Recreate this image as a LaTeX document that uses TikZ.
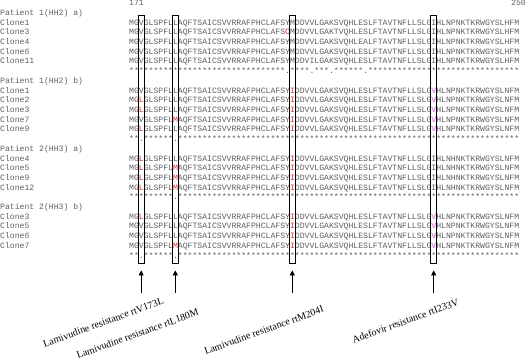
\documentclass[tikz,border=0pt]{standalone}
\usepackage{fontspec}
\setmainfont{Liberation Serif}
\setmonofont{Liberation Mono}
\usetikzlibrary{arrows.meta,positioning}
\definecolor{alngray}{RGB}{95,95,95}
\definecolor{alnred}{RGB}{225,45,45}
\definecolor{alnpink}{RGB}{215,95,215}
\newcommand{\rd}[1]{\textcolor{alnred}{#1}}
\newcommand{\pk}[1]{\textcolor{alnpink}{#1}}
\newcommand{\sten}{**********}

\begin{document}
\begin{tikzpicture}[x=1pt, y=-1pt,
  seqtext/.style={anchor=base west, inner sep=0pt, text=alngray,
                  font=\fontsize{8.125}{9.7}\selectfont\ttfamily},
  colbox/.style={draw, line width=0.8pt, minimum width=5.6pt,
                 minimum height=248pt, inner sep=0pt},
  uparr/.style={-{Triangle[width=5pt,length=5pt]}, line width=0.7pt},
  mutlabel/.style={rotate=20, anchor=north east, inner sep=0pt,
                   font=\fontsize{10}{11}\selectfont}]
  \useasboundingbox (0,0) rectangle (528,361);
  % Position numbers
  \node[seqtext] (pos171) at (129,5.8) {171};
  \node[seqtext] (pos250) at (511,5.8) {250};
  % Group headers
  \foreach \i/\hd in {0/{Patient 1(HH2) a)}, 7/{Patient 1(HH2) b)},
                      14/{Patient 2(HH3) a)}, 20/{Patient 2(HH3) b)}}
    \node[seqtext] (head\i) at (0,15.5+9.7*\i) {\hd};
  % Clone names and sequences
  \foreach \i/\nm/\sq in {
    1/Clone1/{MGVGLSPFLLAQFTSAICSVVRRAFPHCLAFSYMDDVVLGAKSVQHLESLFTAVTNFLLSLGIHLNPNKTKRWGYSLHFM},
    2/Clone3/{MGVGLSPFLLAQFTSAICSVVRRAFPHCLAFS\rd{C}MDDVVLGAKTVQHLESLFTAVTNFLLSLGIHLNPNKTKRWGYSLHFM},
    3/Clone4/{MGVGLSPFLLAQFTSAICSVVRRAFPHCLAFSYMDDVVLGAKSVQHLEALFTAVTNFLLSLGIHLNPNKTKRWGYSLHFM},
    4/Clone6/{MGVGLSPFLLAQFTSAICSVVRRAFPHCLAFSYMDDVVLGAKSVQHLESLFTAVTNFLLSLGIHLNPNKTKRWGYSLHFM},
    5/Clone11/{MGVGLSPFLLAQFTSAICSVVRRAFPHCLAFSYMDDVILGAKSVQHLESLFTAVTNFLLSLGIHLNPNKTKRWGYSLHFM},
    8/Clone1/{MGVGLSPFLLAQFTSAICSVVRRAFPHCLAFSY\rd{I}DDVVLGAKSVQHLESLFTAVTNFLLSLG\pk{V}HLNPNKTKRWGYSLNFM},
    9/Clone2/{MG\rd{L}GLSPFLLAQFTSAICSVVRRAFPHCLAFSY\rd{I}DDVVLGAKSVQHLESLFTAVTNFLLSLG\pk{V}HLNPNKTKRWGYSLNFM},
    10/Clone3/{MG\rd{L}GLSPFLLAQFTSAICSVVRRAFPHCLAFSY\rd{I}DDVVLGAKSVQHLESLFTAVTNFLLSLG\pk{V}HLNPNKTKRWGYSLNFM},
    11/Clone7/{MGVGLSPFL\rd{M}AQFTSAICSVVRRAFPHCLAFSY\rd{I}DDVVLGAKSVQHLESLFTAVTNFLLSLG\pk{V}HLNPNKTKRWGYSLNFM},
    12/Clone9/{MG\rd{L}GLSPFLLAQFTSAICSVVRRAFPHCLAFSY\rd{I}DDVVLGAKSVQHLESLFTAVTNFLLSLG\pk{V}HLNPNKTKRWGYSLNFM},
    15/Clone4/{MG\rd{L}GLSPFLLAQFTSAICSVVRRAFPHCLAFSY\rd{I}DDVVLGAKSVQHLESLFTAVTNFLLSLGIHLNHNKTKRWGYSLNFM},
    16/Clone5/{MG\rd{L}GLSPFL\rd{M}AQFTSAICSVVRRAFPHCLAFSY\rd{I}DDVVLGAKSVQHLESLFTAVTNFLLSLGIHLNHNKTKRWGYSLNFM},
    17/Clone9/{MG\rd{L}GLSPFL\rd{M}AQFTSAICSVVRRAFPHCLAFSY\rd{I}DDVVLGAKSVQHLESLFTAVTNFLLSLGIHLNHNKTKRWGYSLNFM},
    18/Clone12/{MG\rd{L}GLSPFL\rd{M}AQFTSAICSVVRRAFPHCLAFSY\rd{I}DDVVLGAKSVQHLESLFTAVTNFLLSLGIHLNHNKTKRWGYSLNFM},
    21/Clone3/{MG\rd{L}GLSPFLLAQFTSAICSVVRRAFPHCLAFSY\rd{I}DDVVLGAKSVQHLESLFTAVTNFLLSLG\pk{V}HLNPNKTKRWGYSLNFM},
    22/Clone5/{MGVGLSPFLLAQFTSAICSVVRRAFPHCLAFSY\rd{I}DDVVLGAKSVQHLESLFTAVTNFLLSLG\pk{V}HLNPNKTKRWGYSLNFM},
    23/Clone6/{MGVGLSPFLLAQFTSAICSVVRRAFPHCLAFSY\rd{I}DDVVLGAKSVQHLESLFTAVTNFLLSLG\pk{V}HLNPNKTKRWGYSLNFM},
    24/Clone7/{MGVGLSPFL\rd{M}AQFTSAICSVVRRAFPHCLAFSY\rd{I}DDVVLGAKSVQHLESLFTAVTNFLLSLG\pk{V}HLNPNKTKRWGYSLNFM}}
  {
    \node[seqtext] (name\i) at (0,15.5+9.7*\i) {\nm};
    \node[seqtext] (seq\i) at (129,15.5+9.7*\i) {\sq};
  }
  % Consensus lines
  \foreach \i/\cs in {
    6/{********************************.****.***.******.*******************************},
    13/{**.******.\sten\sten\sten\sten\sten\sten\sten},
    19/{*********.\sten\sten\sten\sten\sten\sten\sten},
    25/{**.******.\sten\sten\sten\sten\sten\sten\sten}}
    \node[seqtext] (cons\i) at (129,15.5+9.7*\i) {\cs};
  % Boxed columns
  \node[colbox] (box173) at (141.19,139) {};
  \node[colbox] (box180) at (175.31,139) {};
  \node[colbox] (box204) at (292.31,139) {};
  \node[colbox] (box233) at (433.69,139) {};
  % Arrows
  \foreach \p/\x in {173/141.19, 180/175.31, 204/292.31, 233/433.69} {
    \coordinate (tail\p) at (\x,293);
    \draw[uparr] (tail\p) -- ([yshift=-7pt]box\p.south);
  }
  % Mutation labels
  \node[mutlabel] (lab173) at (162,297) {Lamivudine resistance rtV173L};
  \node[mutlabel] (lab180) at (197,308) {Lamivudine resistance rtL180M};
  \node[mutlabel] (lab204) at (322,305) {Lamivudine resistance rtM204I};
  \node[mutlabel] (lab233) at (457,298) {Adefovir resistance rtI233V};
\end{tikzpicture}
\end{document}
